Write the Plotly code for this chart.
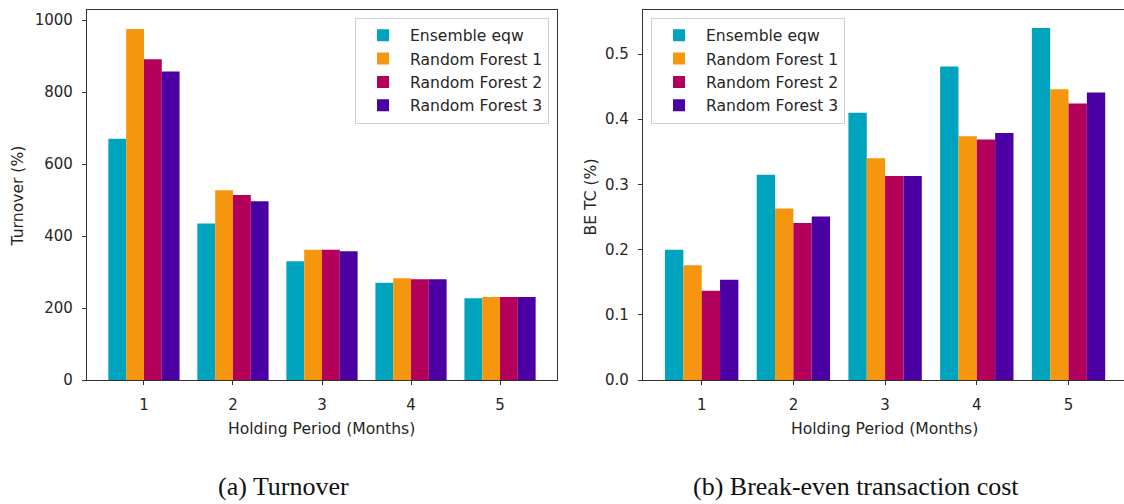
import plotly.graph_objects as go

periods = [1, 2, 3, 4, 5]
series_names = ["Ensemble eqw", "Random Forest 1", "Random Forest 2", "Random Forest 3"]
colors = ["#00a3be", "#f6960f", "#b3005b", "#4b00a3"]

turnover_ens = [670, 435, 330, 270, 227]
turnover_rf1 = [975, 527, 362, 283, 231]
turnover_rf2 = [891, 514, 362, 280, 231]
turnover_rf3 = [857, 497, 358, 280, 231]

betc_ens = [0.200, 0.315, 0.410, 0.481, 0.540]
betc_rf1 = [0.176, 0.263, 0.340, 0.374, 0.446]
betc_rf2 = [0.137, 0.241, 0.313, 0.369, 0.424]
betc_rf3 = [0.154, 0.251, 0.313, 0.379, 0.441]

left_ticks = [0, 200, 400, 600, 800, 1000]
right_ticks = [0.0, 0.1, 0.2, 0.3, 0.4, 0.5]
right_ticklabels = ["0.0", "0.1", "0.2", "0.3", "0.4", "0.5"]

W, H = 1124, 504
fig = go.Figure()

for name, col, vals in zip(series_names, colors, [turnover_ens, turnover_rf1, turnover_rf2, turnover_rf3]):
    fig.add_trace(go.Bar(x=periods, y=vals, name=name, marker=dict(color=col, line=dict(width=0)),
                         xaxis="x", yaxis="y", legend="legend"))
for name, col, vals in zip(series_names, colors, [betc_ens, betc_rf1, betc_rf2, betc_rf3]):
    fig.add_trace(go.Bar(x=periods, y=vals, name=name, marker=dict(color=col, line=dict(width=0)),
                         xaxis="x2", yaxis="y2", legend="legend2"))

def px(x):
    return x / W

def py(y):
    return 1 - y / H

TXT = "#262626"
font_tick = dict(family="DejaVu Sans", size=15, color=TXT)
font_text = dict(family="DejaVu Sans", size=15.6, color=TXT)
font_cap = dict(family="Liberation Serif", size=26, color="#111111")

axis_common = dict(showgrid=False, zeroline=False, showline=True, linecolor="#333333", linewidth=1.3,
                   ticks="outside", ticklen=4, tickcolor="#333333", tickfont=font_tick)

fig.update_layout(
    width=W, height=H, margin=dict(l=0, r=0, t=0, b=0),
    paper_bgcolor="white", plot_bgcolor="white",
    barmode="group", bargap=0.2, bargroupgap=0,
    xaxis=dict(domain=[px(87), px(557)], range=[0.36, 5.64], tickvals=periods, anchor="y",
               mirror=True, ticklabelstandoff=7, **axis_common),
    yaxis=dict(domain=[py(387), py(10.5)], range=[0, 1027], tickvals=left_ticks, anchor="x",
               mirror=True, ticklabelstandoff=6, **axis_common),
    xaxis2=dict(domain=[px(643), 1.0], range=[0.36, 5.605], tickvals=periods, anchor="y2",
                mirror=True, ticklabelstandoff=7, **axis_common),
    yaxis2=dict(domain=[py(387), py(10.5)], range=[0, 0.567], tickvals=right_ticks, ticktext=right_ticklabels,
                anchor="x2", mirror=False, ticklabelstandoff=6, **axis_common),
    legend=dict(x=px(549), xanchor="right", y=py(18), yanchor="top", bgcolor="white",
                bordercolor="#d0d0d0", borderwidth=1, font=font_text, tracegroupgap=0,
                itemwidth=44),
    legend2=dict(x=px(651), xanchor="left", y=py(18), yanchor="top", bgcolor="white",
                 bordercolor="#d0d0d0", borderwidth=1, font=font_text, tracegroupgap=0,
                 itemwidth=44),
    annotations=[
        dict(text="Turnover (%)", x=px(18), y=py(200), xref="paper", yref="paper", textangle=-90,
             showarrow=False, font=font_text, xanchor="center", yanchor="middle"),
        dict(text="BE TC (%)", x=px(591), y=py(200), xref="paper", yref="paper", textangle=-90,
             showarrow=False, font=font_text, xanchor="center", yanchor="middle"),
        dict(text="Holding Period (Months)", x=px(321), y=py(437), xref="paper", yref="paper",
             showarrow=False, font=font_text, xanchor="center", yanchor="middle"),
        dict(text="Holding Period (Months)", x=px(884), y=py(437), xref="paper", yref="paper",
             showarrow=False, font=font_text, xanchor="center", yanchor="middle"),
        dict(text="(a) Turnover", x=px(283), y=py(495), xref="paper", yref="paper",
             showarrow=False, font=font_cap, xanchor="center", yanchor="middle"),
        dict(text="(b) Break-even transaction cost", x=px(856), y=py(495), xref="paper", yref="paper",
             showarrow=False, font=font_cap, xanchor="center", yanchor="middle"),
    ],
)

fig.write_html("out.html")
